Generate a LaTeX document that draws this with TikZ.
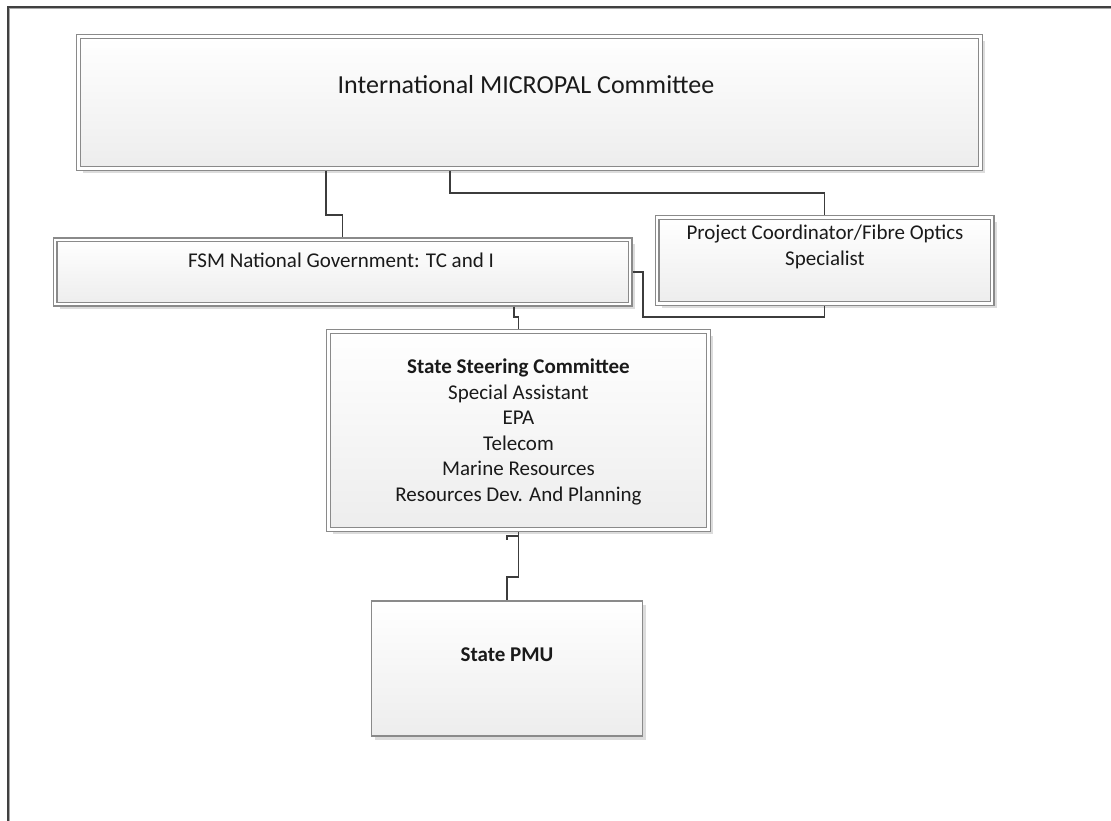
\documentclass[tikz,border=0pt]{standalone}
\usepackage{fontspec}
\setmainfont{Carlito}
\usetikzlibrary{shadows}
\definecolor{edgegray}{HTML}{8A8A8A}
\definecolor{linedark}{HTML}{3C3C3C}
\definecolor{framedark}{HTML}{404040}
\definecolor{framelight}{HTML}{A8A8A8}
\definecolor{fillbottom}{HTML}{EDEDED}
\definecolor{shadowgray}{HTML}{DCDCDC}
\definecolor{txtcol}{HTML}{1A1A1A}
\begin{document}
\begin{tikzpicture}[x=1pt,y=-1pt,
  dblbox/.style={draw=edgegray, line width=1.1pt, double=white, double distance=2.8pt,
    top color=white, bottom color=fillbottom, inner sep=0pt, outer sep=2.5pt,
    drop shadow={shadow xshift=4.5pt, shadow yshift=-4.5pt, fill=shadowgray, opacity=1}},
  sglbox/.style={draw=edgegray, line width=1.2pt,
    top color=white, bottom color=fillbottom, inner sep=0pt, outer sep=0.6pt,
    drop shadow={shadow xshift=3.5pt, shadow yshift=-3.5pt, fill=shadowgray, opacity=1}},
  txt/.style={text=txtcol, align=center, inner sep=0pt, font=\fontsize{21}{25.5}\selectfont},
  conn/.style={draw=linedark, line width=1.9pt},
  framedk/.style={draw=framedark, line width=2.2pt},
  framelt/.style={draw=framelight, line width=0.9pt}]
\useasboundingbox (0,0) rectangle (1111,821);
% frame
\draw[framelt] (9.6,821) |- (1111,8.6);
\draw[framedk] (7.8,821) |- (1111,6.7);
% boxes
\node[dblbox, minimum width=902pt, minimum height=132pt] (top) at (529.5,102.5) {};
\node[dblbox, minimum width=575pt, minimum height=64pt] (fsm) at (342.5,272) {};
\node[dblbox, minimum width=335pt, minimum height=86pt] (proj) at (824.5,260.5) {};
\node[dblbox, minimum width=380pt, minimum height=198pt] (steer) at (518.5,430.5) {};
\node[sglbox, minimum width=271pt, minimum height=135pt] (pmu) at (507,668.5) {};
% texts
\node[txt, font=\fontsize{26}{31}\selectfont] (toptxt) at (526,85) {International MICROPAL Committee};
\node[txt] (fsmtxt) at (341,260) {FSM National Government: TC and I};
\node[txt] (projtxt) at (825,247) {Project Coordinator/Fibre Optics\\Specialist};
\node[txt] (steertxt) at (518.5,432) {\textbf{State Steering Committee}\\Special Assistant\\EPA\\Telecom\\Marine Resources\\Resources Dev. And Planning};
\node[txt] (pmutxt) at (507,655) {\textbf{State PMU}};
% connectors
\draw[conn] (326,0 |- top.south) -- (326,215) -| (fsm.north);
\draw[conn] (450,0 |- top.south) -- (450,193) -| (proj.north);
\draw[conn] (fsm.east) -- (643,0 |- fsm.east) -- (643,317) -| (proj.south);
\draw[conn] (514,0 |- fsm.south) -- (514,317) -| (steer.north);
\draw[conn] (steer.south) -- (steer.south |- 0,577) -| (pmu.north);
\coordinate (stubtick) at (507,539.5);
\coordinate (stubjoin) at (518.5,536);
\draw[conn, line width=1.6pt] (stubtick) |- (stubjoin);
\end{tikzpicture}
\end{document}
